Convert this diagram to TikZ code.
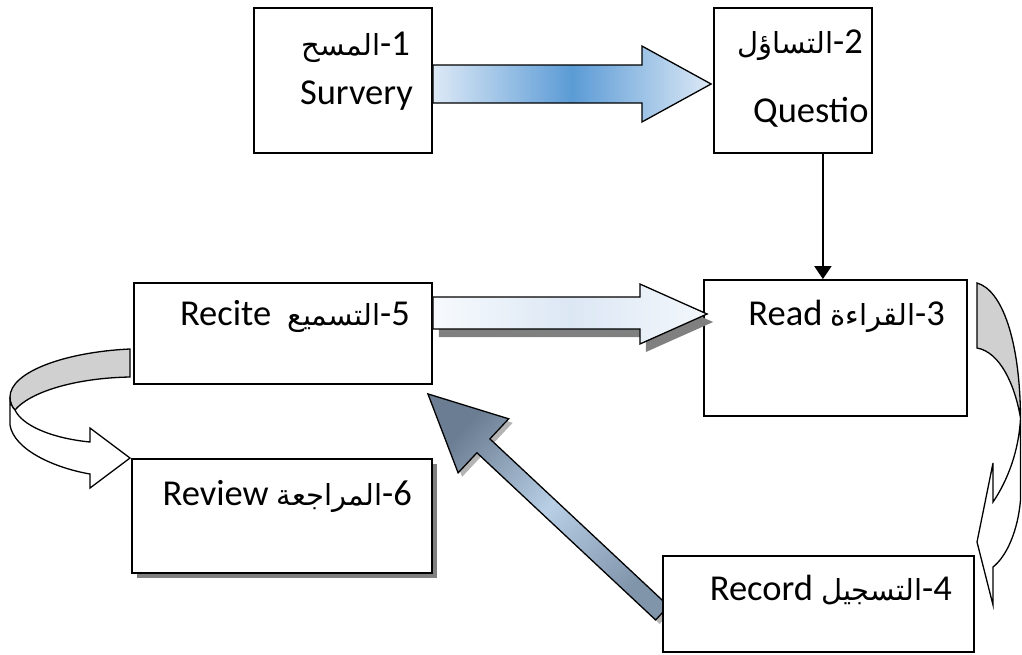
\documentclass[tikz,border=0pt]{standalone}
\usepackage{fontspec}
\setmainfont{Carlito}
\newfontfamily\arabicfont[Script=Arabic]{DejaVu Sans}
\TeXXeTstate=1
\usetikzlibrary{arrows.meta,calc,shadows,backgrounds}

\definecolor{blueEdge}{HTML}{DDE9F6}
\definecolor{blueMid}{HTML}{5B9BD5}
\definecolor{paleL}{HTML}{F7FAFD}
\definecolor{paleM}{HTML}{DCE7F4}
\definecolor{paleR}{HTML}{F3F7FC}
\definecolor{slateTip}{HTML}{6B7D92}
\definecolor{slateMid}{HTML}{B8CFE6}
\definecolor{slateEnd}{HTML}{8094AA}
\definecolor{shadowGray}{HTML}{808080}
\definecolor{softShadow}{HTML}{B4B4B4}
\definecolor{bandGray}{HTML}{D0D0D0}

% Arabic word, set right to left
\newcommand\arw[1]{{\arabicfont\fontsize{29}{34}\selectfont\beginR #1\endR}}

\begin{document}
\begin{tikzpicture}[x=1pt,y=-1pt,
  box/.style={draw=black, line width=1.8pt, fill=white, inner sep=0pt},
  lbl/.style={inner sep=0pt, font=\fontsize{36.5}{40}\selectfont},
  blockarrow/.style={draw=black, line width=1.3pt, line join=miter},
  ribbon/.style={draw=black, line width=1.3pt, line join=miter}]
\clip (0,0) rectangle (1022,654);

% step boxes
\node[box, minimum width=178pt, minimum height=145pt] (b1) at (343,80.5) {};
\node[box, minimum width=158pt, minimum height=145pt] (b2) at (793,80.5) {};
\node[box, minimum width=263pt, minimum height=136pt] (b3) at (835.5,348) {};
\node[box, minimum width=311pt, minimum height=96pt]  (b4) at (818.5,604) {};
\node[box, minimum width=298pt, minimum height=101pt] (b5) at (283,333.5) {};
\node[box, minimum width=300pt, minimum height=114pt,
      drop shadow={shadow xshift=5pt, shadow yshift=-5pt, fill=shadowGray, opacity=1}] (b6) at (282,516) {};

% labels
\node[lbl, anchor=base east] (t1a) at (410,55) {\arw{المسح}-1};
\node[lbl, anchor=base east] (t1b) at (413,104) {Survery};
\node[lbl, anchor=base east] (t2a) at (863,53) {\arw{التساؤل}-2};
\node[lbl, anchor=base west] (t2b) at (753,122) {Questio};
\node[lbl, anchor=base east] (t3) at (945,325) {Read \arw{القراءة}-3};
\node[lbl, anchor=base east] (t4) at (952,600) {Record \arw{التسجيل}-4};
\node[lbl, anchor=base east] (t5) at (410,325) {Recite\ \ \arw{التسميع}-5};
\node[lbl, anchor=base east] (t6) at (412,505) {Review \arw{المراجعة}-6};

% 1 -> 2 block arrow
\coordinate (s12) at ($(b1.east)+(0,3.5)$);
\coordinate (e12) at ($(b2.west)+(-2,3.5)$);
\draw[blockarrow, left color=blueEdge, right color=blueEdge, middle color=blueMid]
  ($(s12)+(0,-19)$) -- ($(s12)+(209,-19)$) -- ($(s12)+(209,-38)$) -- (e12)
  -- ($(s12)+(209,38)$) -- ($(s12)+(209,19)$) -- ($(s12)+(0,19)$) -- cycle;

% 2 -> 3 plain connector
\coordinate (a2) at ($(b2.south east)+(-50,0)$);
\draw[line width=1.8pt, -{Triangle[length=13pt,width=17pt]}] (a2) -- (a2 |- b3.north);

% 5 -> 3 block arrow with shadow
\coordinate (s53) at ($(b5.east)+(0,-20.5)$);
\coordinate (e53) at ($(b3.west)+(4,-34)$);
\fill[shadowGray, transform canvas={xshift=6pt, yshift=-8pt}]
  ($(s53)+(0,-16)$) -- ($(s53)+(207,-16)$) -- ($(s53)+(207,-29)$) -- (e53)
  -- ($(s53)+(207,31)$) -- ($(s53)+(207,16)$) -- ($(s53)+(0,16)$) -- cycle;
\draw[blockarrow, left color=paleL, right color=paleR, middle color=paleM]
  ($(s53)+(0,-16)$) -- ($(s53)+(207,-16)$) -- ($(s53)+(207,-29)$) -- (e53)
  -- ($(s53)+(207,31)$) -- ($(s53)+(207,16)$) -- ($(s53)+(0,16)$) -- cycle;

\begin{scope}[on background layer]
% 4 -> 5 diagonal block arrow
\coordinate (d4) at ($(b4.west)+(0,9)$);
\coordinate (d5) at ($(b5.south east)+(-5,9)$);
\fill[softShadow, transform canvas={xshift=4pt, yshift=-4pt}]
  (d5) -- ($(d5)!84.53pt!25.96:(d4)$) -- ($(d5)!76.59pt!7.125:(d4)$)
  -- ($(d4)!9.5pt!-90:(d5)$) -- ($(d4)!9.5pt!90:(d5)$)
  -- ($(d5)!76.59pt!-7.125:(d4)$) -- ($(d5)!84.53pt!-25.96:(d4)$) -- cycle;
\draw[blockarrow, shading=axis, top color=slateTip, bottom color=slateEnd,
      middle color=slateMid, shading angle=47]
  (d5) -- ($(d5)!84.53pt!25.96:(d4)$) -- ($(d5)!76.59pt!7.125:(d4)$)
  -- ($(d4)!9.5pt!-90:(d5)$) -- ($(d4)!9.5pt!90:(d5)$)
  -- ($(d5)!76.59pt!-7.125:(d4)$) -- ($(d5)!84.53pt!-25.96:(d4)$) -- cycle;

% curled arrow from 3 down to 4
\draw[ribbon, fill=bandGray]
  (977,283) .. controls (1002,290) and (1020,340) .. (1020.5,418)
  .. controls (1015,385) and (1000,352) .. (977,348) -- cycle;
\draw[ribbon, fill=white]
  (1020.5,418) -- (1020.5,500) .. controls (1018,530) and (1007,556) .. (993,567)
  -- (993,605) -- (977,542) -- (993,463) -- (993,502)
  .. controls (1008,480) and (1019,450) .. (1020.5,418) -- cycle;

% curled arrow from 5 down to 6
\draw[ribbon, fill=bandGray]
  (130,349) .. controls (65,352) and (10,372) .. (10,397)
  .. controls (10,403) and (12,407) .. (15,410)
  .. controls (30,392) and (75,378) .. (130,377) -- cycle;
\draw[ribbon, fill=white]
  (10,397) -- (10,425) .. controls (14,450) and (55,468) .. (90,474)
  -- (90,488) -- (130,458) -- (90,428) -- (90,442)
  .. controls (50,438) and (22,425) .. (15,410)
  .. controls (12,407) and (10,403) .. (10,397) -- cycle;
\end{scope}
\end{tikzpicture}
\end{document}
